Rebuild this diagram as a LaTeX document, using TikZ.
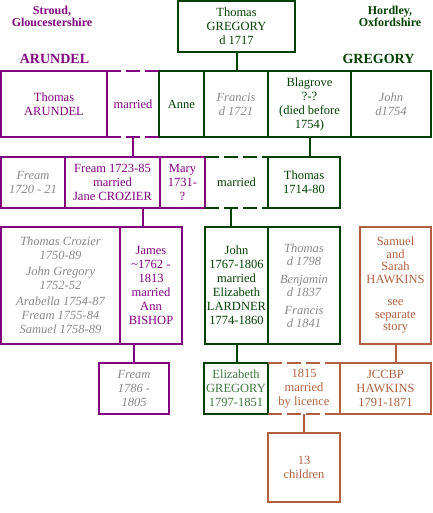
\documentclass[tikz,border=0pt]{standalone}
\usepackage{fontspec}
\setmainfont{Liberation Serif}
\usepackage{tikz}
\usetikzlibrary{positioning}
\definecolor{arundel}{RGB}{128,0,128}
\definecolor{gregory}{RGB}{0,64,0}
\definecolor{lightgregory}{RGB}{60,120,60}
\definecolor{hawkins}{RGB}{176,96,64}
\definecolor{dead}{RGB}{136,136,136}

\begin{document}
\begin{tikzpicture}
  [x=1pt,y=-1pt,
   every node/.style={rectangle,draw=none,fill=none,align=center,inner sep=1pt,outer sep=0pt,font=\fontsize{12.5}{14}\selectfont},
   box/.style={draw,line width=2pt},
   pbox/.style={box,draw=arundel,text=arundel},
   gbox/.style={box,draw=gregory,text=gregory},
   hbox/.style={box,draw=hawkins,text=hawkins},
   gone/.style={text=dead,font=\fontsize{12.5}{14}\selectfont\itshape},
   tight/.style={font=\fontsize{12.5}{12.5}\selectfont},
   wed/.style={line width=2pt,dash pattern=on 14pt off 5pt},
   link/.style={line width=2pt},
   place/.style={font=\fontsize{12}{12}\selectfont\bfseries},
   clan/.style={font=\fontsize{14}{14}\selectfont\bfseries},
   rowb/.style={minimum height=66pt},
   rowc/.style={minimum height=51pt},
   rowd/.style={minimum height=117pt},
   rowe/.style={minimum height=51pt}]
  \useasboundingbox (0,0) rectangle (432,513);

  % places and family names
  \node[place,text=arundel] (stroud) at (52,16) {Stroud,\\Gloucestershire};
  \node[place,text=gregory] (hordley) at (390,16) {Hordley,\\Oxfordshire};
  \node[clan,text=arundel] (lbla) at (54.5,59) {ARUNDEL};
  \node[clan,text=gregory] (lblg) at (378.5,59) {GREGORY};

  % first generation
  \node[gbox,minimum width=117pt,minimum height=51pt] (tg) at (236.5,26.5) {Thomas\\GREGORY\\d 1717};

  % second generation
  \node[pbox,rowb,minimum width=106pt] (ta) at (54,104) {Thomas\\ARUNDEL};
  \node[rowb,minimum width=52pt,text=arundel,right=0pt of ta] (m1) {married};
  \node[gbox,rowb,minimum width=45pt,right=0pt of m1] (anne) {Anne};
  \node[gbox,gone,rowb,minimum width=64pt,right=0pt of anne] (fr1) {Francis\\d 1721};
  \node[gbox,rowb,minimum width=83pt,right=0pt of fr1] (blag) {Blagrove\\?-?\\(died before\\1754)};
  \node[gbox,gone,rowb,minimum width=80pt,right=0pt of blag] (jn1) {John\\d1754};
  \draw[wed,arundel] (m1.north west) -- (m1.north east) (m1.south west) -- (m1.south east);

  % third generation
  \node[pbox,gone,rowc,minimum width=64pt] (fm1) at (33,182.5) {Fream\\1720 - 21};
  \node[pbox,rowc,minimum width=95pt,right=0pt of fm1] (fm2) {Fream 1723-85\\married\\Jane CROZIER};
  \node[pbox,rowc,minimum width=45pt,right=0pt of fm2] (mary) {Mary\\1731-\\?};
  \node[rowc,minimum width=63pt,text=gregory,right=0pt of mary] (m2) {married};
  \node[gbox,rowc,minimum width=72pt,right=0pt of m2] (th2) {Thomas\\1714-80};
  \draw[wed,gregory] (m2.north west) -- (m2.north east) (m2.south west) -- (m2.south east);

  % fourth generation
  \node[pbox,gone,rowd,minimum width=119pt] (sibs) at (60.5,285.5)
    {Thomas Crozier\\1750-89\\[2pt]John Gregory\\1752-52\\[2pt]Arabella 1754-87\\Fream 1755-84\\Samuel 1758-89};
  \node[pbox,rowd,minimum width=62pt,right=0pt of sibs] (james)
    {James\\\textasciitilde1762 -\\1813\\married\\Ann\\BISHOP};
  \node[gbox,rowd,minimum width=63pt] (jn2) at (236.5,285.5)
    {John\\1767-1806\\married\\Elizabeth\\LARDNER\\1774-1860};
  \node[gbox,gone,rowd,minimum width=72pt,right=0pt of jn2,font=\fontsize{12.5}{13}\selectfont\itshape] (tbf)
    {Thomas\\d 1798\\[5pt]Benjamin\\d 1837\\[5pt]Francis\\d 1841};
  \node[hbox,rowd,tight,minimum width=71pt] (hawk) at (395.5,285.5)
    {Samuel\\and\\Sarah\\HAWKINS\\[10pt]see\\separate\\story};

  % fifth generation
  \node[pbox,gone,rowe,minimum width=70pt] (fm3) at (134,388.5) {Fream\\1786 -\\1805};
  \node[gbox,rowe,minimum width=64pt,text=lightgregory] (eliz) at (236,388.5) {Elizabeth\\GREGORY\\1797-1851};
  \node[rowe,minimum width=72pt,text=hawkins,right=0pt of eliz] (m3) {1815\\married\\by licence};
  \node[hbox,rowe,minimum width=91pt,right=0pt of m3] (jc) {JCCBP\\HAWKINS\\1791-1871};
  \draw[wed,hawkins] (m3.north west) -- (m3.north east) (m3.south west) -- (m3.south east);

  \node[hbox,minimum width=72pt,minimum height=69pt] (kids) at (304,467.5) {13\\children};

  % lines of descent
  \draw[link,gregory] (tg.south) -- (tg.south |- fr1.north);
  \draw[link,arundel] (m1.south) -- (m1.south |- fm2.north);
  \draw[link,gregory] (blag.south) -- (blag.south |- th2.north);
  \coordinate (fm2d) at ([xshift=30pt]fm2.south);
  \draw[link,arundel] (fm2d) -- (fm2d |- james.north);
  \coordinate (m2d) at ([xshift=-6pt]m2.south);
  \draw[link,gregory] (m2d) -- (m2d |- jn2.north);
  \draw[link,arundel] (fm3.north |- james.south) -- (fm3.north);
  \draw[link,gregory] (jn2.south) -- (jn2.south |- eliz.north);
  \draw[link,hawkins] (hawk.south) -- (hawk.south |- jc.north);
  \draw[link,hawkins] (m3.south) -- (kids.north);
\end{tikzpicture}
\end{document}
